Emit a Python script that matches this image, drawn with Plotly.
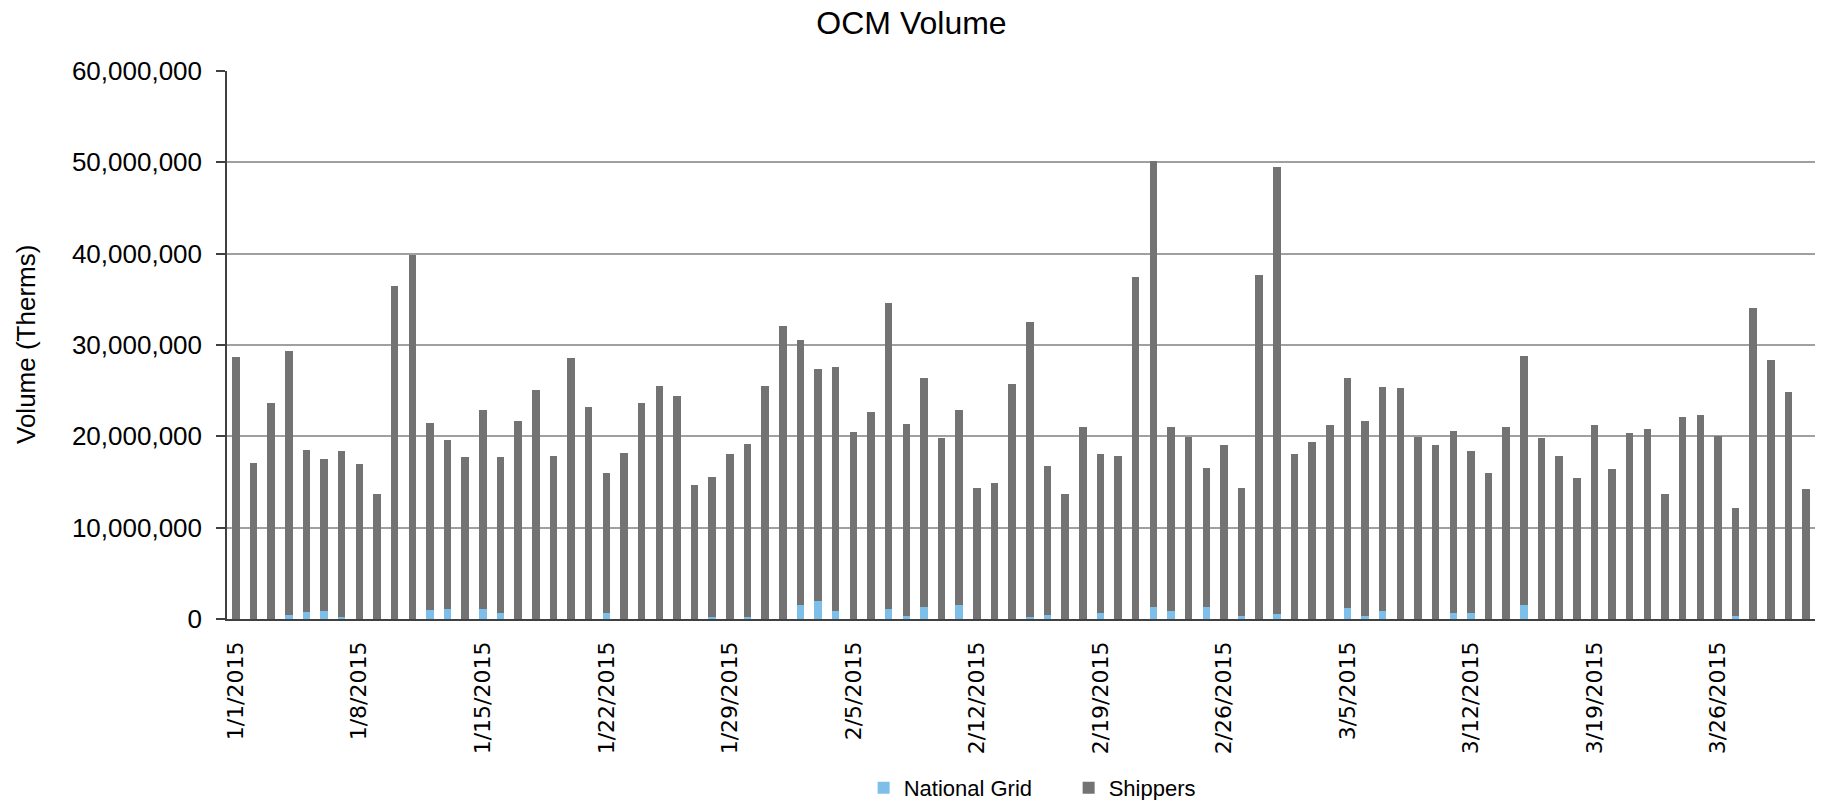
import pandas as pd
import plotly.graph_objects as go

# ---- data (values in millions of therms) ----
dates = pd.date_range("2015-01-01", periods=90, freq="D")

national_grid_m = [
    0, 0, 0, 0.46, 0.75, 0.92, 0.25, 0, 0, 0,
    0, 1.0, 1.13, 0, 1.13, 0.63, 0, 0, 0, 0,
    0, 0.71, 0, 0, 0, 0, 0, 0.2, 0, 0.2,
    0, 0, 1.55, 2.0, 0.88, 0, 0, 1.13, 0.33, 1.3,
    0, 1.55, 0, 0, 0, 0.2, 0.46, 0, 0, 0.71,
    0, 0, 1.3, 0.88, 0, 1.3, 0, 0.33, 0, 0.59,
    0, 0, 0, 1.17, 0.33, 0.88, 0, 0, 0, 0.71,
    0.71, 0, 0, 1.55, 0, 0, 0, 0, 0, 0,
    0, 0, 0, 0, 0, 0.33, 0, 0, 0, 0,
]

shippers_m = [
    28.7, 17.1, 23.6, 28.84, 17.8, 16.63, 18.15, 17.0, 13.65, 36.5,
    39.9, 20.5, 18.47, 17.7, 21.77, 17.07, 21.7, 25.1, 17.8, 28.6,
    23.2, 15.29, 18.2, 23.7, 25.5, 24.4, 14.7, 15.4, 18.1, 19.0,
    25.5, 32.1, 29.05, 25.4, 26.72, 20.5, 22.7, 33.47, 20.97, 25.1,
    19.8, 21.35, 14.3, 14.9, 25.7, 32.3, 16.34, 13.65, 21.0, 17.39,
    17.8, 37.4, 48.9, 20.12, 19.9, 15.2, 19.1, 13.97, 37.7, 48.91,
    18.1, 19.4, 21.2, 25.23, 21.37, 24.52, 25.25, 19.9, 19.1, 19.89,
    17.69, 16.0, 21.0, 27.25, 19.8, 17.8, 15.45, 21.2, 16.4, 20.35,
    20.8, 13.65, 22.1, 22.3, 20.05, 11.87, 34.0, 28.35, 24.8, 14.2,
]

tick_dates = ["2015-01-01", "2015-01-08", "2015-01-15", "2015-01-22", "2015-01-29",
              "2015-02-05", "2015-02-12", "2015-02-19", "2015-02-26", "2015-03-05",
              "2015-03-12", "2015-03-19", "2015-03-26"]
tick_labels = ["1/1/2015", "1/8/2015", "1/15/2015", "1/22/2015", "1/29/2015",
               "2/5/2015", "2/12/2015", "2/19/2015", "2/26/2015", "3/5/2015",
               "3/12/2015", "3/19/2015", "3/26/2015"]

series_names = ["National Grid", "Shippers"]
series_colors = ["#7dbfe9", "#737373"]

# ---- figure ----
FONT = "Liberation Sans, Arial, sans-serif"

ng = [v * 1e6 for v in national_grid_m]
sh = [v * 1e6 for v in shippers_m]

fig = go.Figure()
fig.add_trace(go.Bar(x=dates, y=ng, name=series_names[0],
                     marker=dict(color=series_colors[0], line=dict(width=0))))
fig.add_trace(go.Bar(x=dates, y=sh, name=series_names[1],
                     marker=dict(color=series_colors[1], line=dict(width=0))))

half_day = pd.Timedelta(hours=12)
x_range = [dates[0] - half_day, dates[-1] + half_day]
boundary_ticks = [pd.Timestamp(d) - half_day for d in tick_dates]

fig.update_layout(
    width=1823, height=800,
    barmode="stack", bargap=0.575,
    paper_bgcolor="white", plot_bgcolor="white",
    margin=dict(l=227, r=8, t=71, b=181, autoexpand=False),
    font=dict(family=FONT, color="#000000"),
    title=dict(text="OCM Volume", x=0.5, xanchor="center",
               y=0.972, yanchor="middle", yref="container",
               font=dict(size=32, family=FONT, color="#000000")),
    xaxis=dict(
        type="date", range=x_range, automargin=False,
        tickmode="array", tickvals=tick_dates, ticktext=tick_labels,
        tickangle=-90, ticks="", ticklabelstandoff=12,
        tickfont=dict(family="DejaVu Sans", size=22, color="#000000"),
        showgrid=False, zeroline=False,
        showline=True, linecolor="#404040", linewidth=1.5,
    ),
    xaxis2=dict(
        type="date", range=x_range, overlaying="x", anchor="y", side="bottom",
        tickmode="array", tickvals=boundary_ticks,
        ticks="outside", ticklen=7, tickwidth=1.5, tickcolor="#404040",
        showticklabels=False, showgrid=False, zeroline=False, showline=False,
    ),
    yaxis=dict(
        range=[0, 60e6], tickmode="linear", tick0=0, dtick=10e6,
        tickformat=",d", automargin=False,
        tickfont=dict(size=26, family=FONT, color="#000000"),
        ticks="outside", ticklen=9, tickwidth=1.5, tickcolor="#404040",
        ticklabelstandoff=9,
        showgrid=True, gridcolor="#a0a0a0", gridwidth=2,
        zeroline=False,
        showline=True, linecolor="#404040", linewidth=1.5,
    ),
    legend=dict(
        orientation="h", x=0.530, xanchor="center",
        yref="container", y=0.015, yanchor="middle", traceorder="normal",
        font=dict(size=22, family=FONT, color="#000000"),
        entrywidth=160,
    ),
    annotations=[dict(
        text="Volume (Therms)", textangle=-90,
        xref="paper", yref="paper", x=(26 - 227) / 1588, y=0.5,
        xanchor="center", yanchor="middle", showarrow=False,
        font=dict(size=26, family=FONT, color="#000000"),
    )],
)

fig.write_html("out.html", config={"displayModeBar": False},
               post_script="document.body.style.margin='0';")
